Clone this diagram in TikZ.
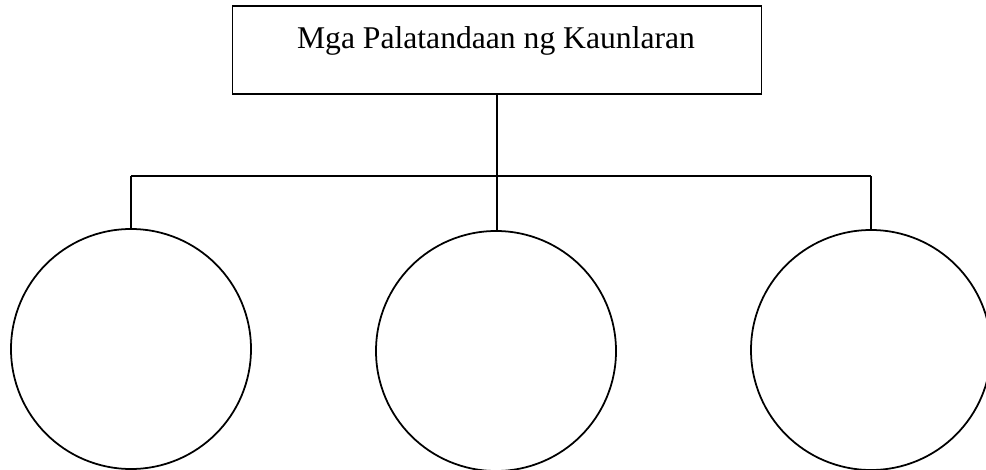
\documentclass[tikz,border=0pt]{standalone}
\usepackage{fontspec}
\setmainfont{Liberation Serif}
\begin{document}
\begin{tikzpicture}[x=0.2mm, y=-0.2mm, line width=1pt,
          titlebox/.style={draw, minimum width=10.58cm, minimum height=1.76cm, inner sep=0pt},
          titletext/.style={font=\fontsize{18}{22}\selectfont, anchor=base, inner sep=0pt},
          bubble/.style={draw, circle, minimum size=4.8cm, inner sep=0pt}]
        \useasboundingbox (0,0) rectangle (986,470);
        \node[titlebox] (title) at (497,50) {};
        \node[titletext] (titlelabel) at (496,49) {Mga Palatandaan ng Kaunlaran};
        \node[bubble] (left) at (131,349) {};
        \node[bubble] (mid) at (496,351) {};
        \node[bubble] (right) at (871,350) {};
        \coordinate (busL) at (131,176);
        \coordinate (busR) at (871,176);
        \coordinate (hub) at (title.south |- busL);
        \draw (title.south) -- (hub);
        \draw (busL) -- (busR);
        \draw (busL) -- (left.north);
        \draw (hub) -- (hub |- mid.north);
        \draw (busR) -- (right.north);
      \end{tikzpicture}
\end{document}
